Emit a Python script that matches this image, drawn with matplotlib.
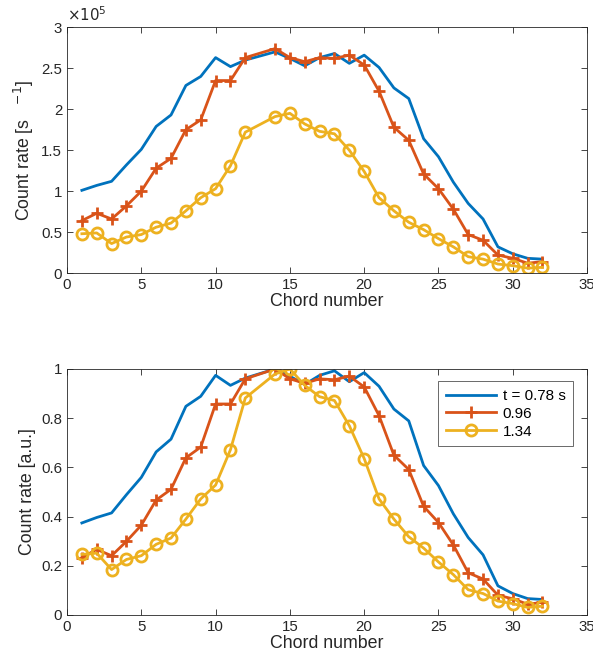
import matplotlib
matplotlib.use('Agg')
import matplotlib.pyplot as plt
import numpy as np
from matplotlib.ticker import FuncFormatter

plt.rcParams['font.family'] = ['Liberation Sans', 'DejaVu Sans']

# chord 13 is missing in the data
chords = [1, 2, 3, 4, 5, 6, 7, 8, 9, 10, 11, 12, 14, 15, 16, 17, 18, 19, 20,
          21, 22, 23, 24, 25, 26, 27, 28, 29, 30, 31, 32]

# count rates in units of 1e5 s^-1
rate_078 = [1.01, 1.07, 1.12, 1.32, 1.51, 1.79, 1.93, 2.29, 2.40, 2.63, 2.52,
            2.60, 2.70, 2.62, 2.53, 2.63, 2.68, 2.56, 2.66, 2.51, 2.26, 2.13,
            1.64, 1.42, 1.11, 0.85, 0.66, 0.32, 0.235, 0.18, 0.17]
rate_096 = [0.64, 0.73, 0.66, 0.82, 1.00, 1.28, 1.40, 1.75, 1.87, 2.35, 2.35,
            2.63, 2.74, 2.63, 2.58, 2.63, 2.62, 2.66, 2.54, 2.22, 1.78, 1.62,
            1.21, 1.03, 0.78, 0.47, 0.40, 0.22, 0.18, 0.12, 0.14]
rate_134 = [0.48, 0.49, 0.36, 0.44, 0.47, 0.56, 0.61, 0.76, 0.92, 1.03, 1.31,
            1.72, 1.91, 1.95, 1.82, 1.73, 1.70, 1.50, 1.24, 0.92, 0.76, 0.62,
            0.53, 0.42, 0.32, 0.20, 0.17, 0.11, 0.09, 0.06, 0.07]
scale = 1e5

labels = ['t = 0.78 s', '0.96', '1.34']
colors = ['#0072BD', '#D95319', '#EDB120']
markers = [None, '+', 'o']

series = [np.array(r) * scale for r in (rate_078, rate_096, rate_134)]

fig = plt.figure(figsize=(5.93, 6.66), dpi=100)
ax1 = fig.add_axes([0.113, 0.590, 0.877, 0.369])
ax2 = fig.add_axes([0.113, 0.0766, 0.877, 0.3694])

def style(ax):
    ax.tick_params(direction='in', top=True, right=True, labelsize=10.8,
                   colors='#262626', length=4, width=0.6)
    for s in ax.spines.values():
        s.set_linewidth(0.6)
        s.set_color('#262626')
    ax.set_xlim(0, 35)
    ax.set_xticks(np.arange(0, 36, 5))
    ax.set_xlabel('Chord number', fontsize=12.8, color='#262626', labelpad=1)

for y, lab, c, m in zip(series, labels, colors, markers):
    ax1.plot(chords, y, color=c, lw=2, marker=m, ms=8, mew=2,
             mfc='none', label=lab)
    ax2.plot(chords, y / y.max(), color=c, lw=2, marker=m, ms=8, mew=2,
             mfc='none', label=lab)

style(ax1)
ax1.set_ylim(0, 3e5)
ax1.set_yticks(np.arange(0, 3.01e5, 0.5e5))
ax1.yaxis.set_major_formatter(FuncFormatter(lambda v, p: '%g' % (v / scale)))
ax1.set_ylabel('Count rate [s   $^{-1}$]', fontsize=12.8, color='#262626')
ax1.text(0.0, 1.015, r'$\times 10^{5}$', transform=ax1.transAxes,
         fontsize=10.8, color='#262626', ha='left', va='bottom')

style(ax2)
ax2.set_ylim(0, 1)
ax2.set_yticks(np.arange(0, 1.01, 0.2))
ax2.yaxis.set_major_formatter(FuncFormatter(lambda v, p: '%g' % v))
ax2.set_ylabel('Count rate [a.u.]', fontsize=12.8, color='#262626')
leg = ax2.legend(loc='upper right', bbox_to_anchor=(0.973, 0.95),
                 fancybox=False, edgecolor='#262626', fontsize=11,
                 borderaxespad=0, handlelength=3.3, handletextpad=0.4,
                 labelspacing=0.25, borderpad=0.5)
leg.get_frame().set_linewidth(0.6)

fig.savefig('out.png', dpi=100)
